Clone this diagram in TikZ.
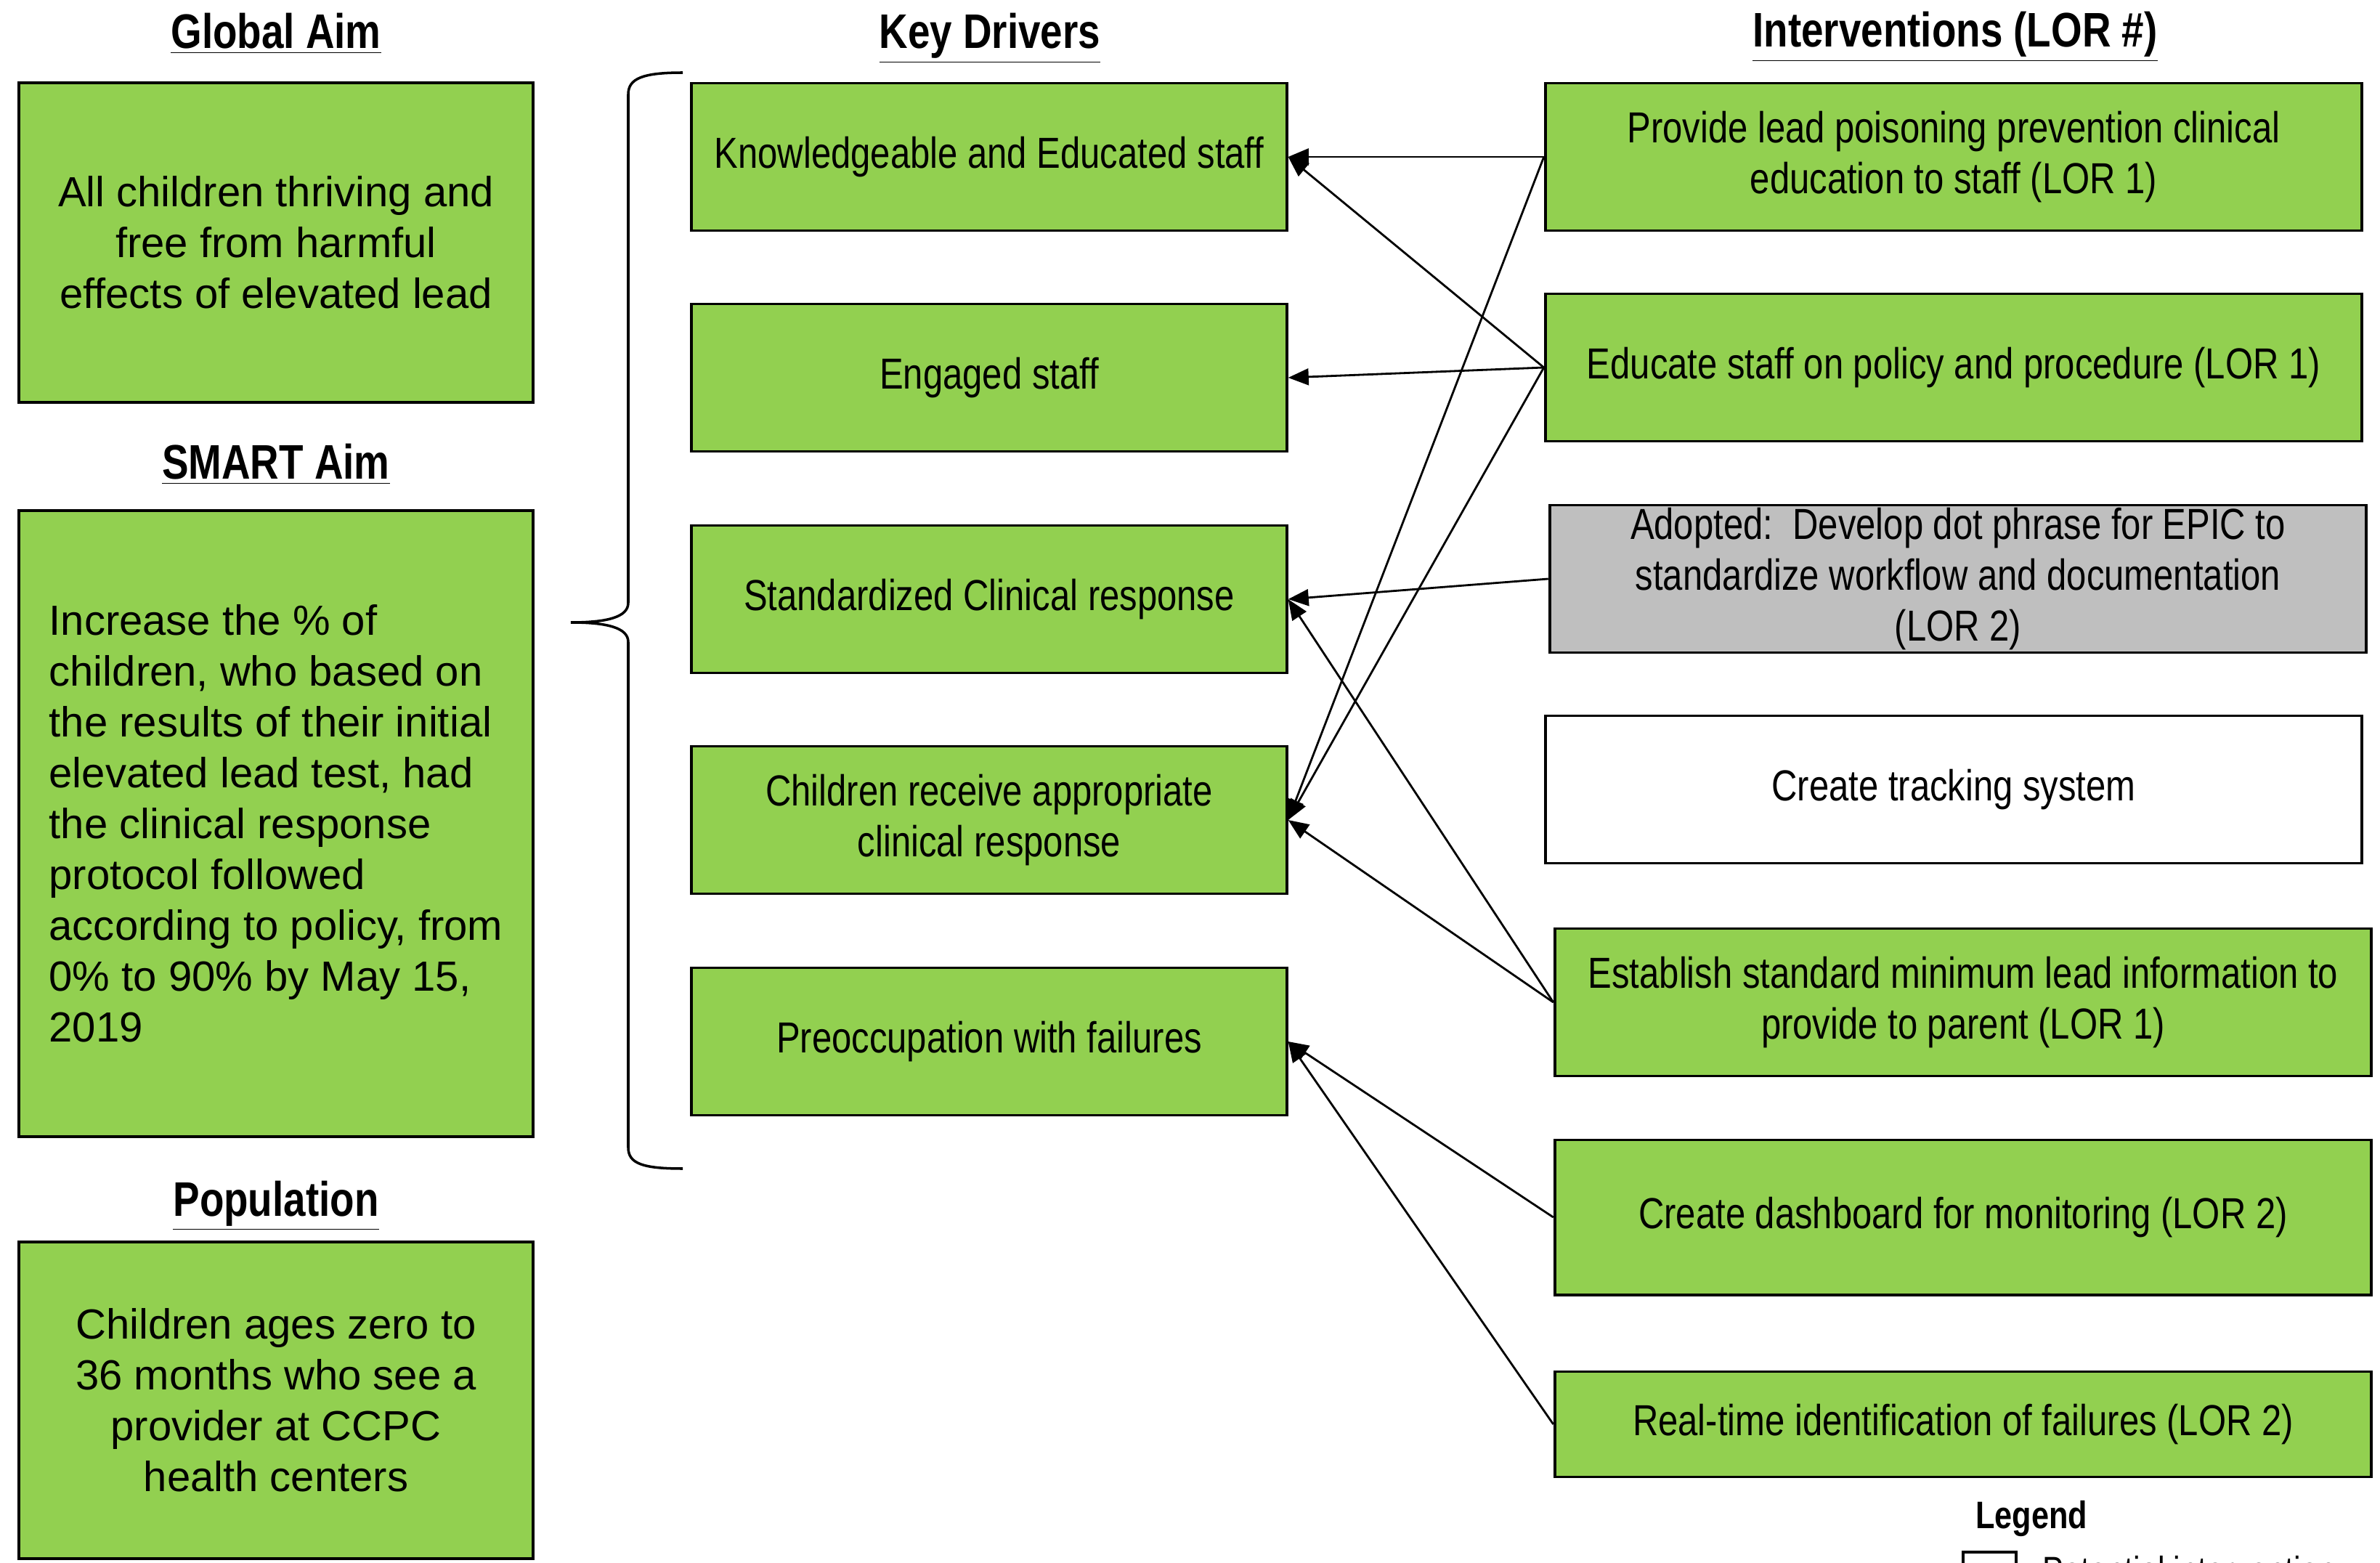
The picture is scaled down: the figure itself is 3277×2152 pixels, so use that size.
\documentclass[tikz,border=0pt]{standalone}
\usepackage{fontspec}
\setmainfont{Liberation Sans}
\newfontfamily\narrowfont[FakeStretch=0.82]{Liberation Sans}
\usetikzlibrary{arrows.meta,positioning}
\definecolor{boxgreen}{HTML}{92D050}
\definecolor{boxgray}{HTML}{BFBFBF}

\begin{document}
\begin{tikzpicture}[x=0.01cm,y=-0.01cm,
  box/.style={draw,line width=1.1pt,fill=boxgreen,inner sep=0pt,align=center},
  aim/.style={box,minimum width=7.07cm,font=\fontsize{16.5}{19.9}\selectfont},
  drv/.style={box,minimum width=8.19cm,minimum height=2.03cm,font=\narrowfont\fontsize{17}{20}\selectfont},
  act/.style={box,minimum width=11.24cm,minimum height=2.03cm,font=\narrowfont\fontsize{17}{20}\selectfont},
  head/.style={anchor=base,font=\narrowfont\bfseries\fontsize{19}{22}\selectfont},
  link/.style={line width=0.8pt,-{Triangle[length=8pt,width=6.5pt]}}]
\useasboundingbox (0,0) rectangle (3277,2152);
\node[head] (h1) at (380,67) {\underline{Global Aim}};
\node[head] (h2) at (1363,67) {\underline{Key Drivers}};
\node[head] (h3) at (2692,65) {\underline{Interventions (LOR \#)}};
\node[head] (h4) at (380,660) {\underline{SMART Aim}};
\node[head] (h5) at (380,1674) {\underline{Population}};
\node[aim,minimum height=4.39cm] (g) at (380,334) {All children thriving and\\free from harmful\\effects of elevated lead};
\node[aim,minimum height=8.61cm,align=left] (s) at (380,1134) {Increase the \% of\\children, who based on\\the results of their initial\\elevated lead test, had\\the clinical response\\protocol followed\\according to policy, from\\0\% to 90\% by May 15,\\2019};
\node[aim,minimum height=4.36cm] (p) at (380,1928) {Children ages zero to\\36 months who see a\\provider at CCPC\\health centers};
\draw[line width=1pt] (940,100) .. controls (885,100) and (865,108) .. (865,130) -- (865,830)
  .. controls (865,850) and (835,857) .. (786,857) .. controls (835,857) and (865,864) .. (865,884)
  -- (865,1580) .. controls (865,1602) and (885,1609) .. (940,1609);
\node[drv] (k1) at (1362,216) {Knowledgeable and Educated staff};
\node[drv] (k2) at (1362,520) {Engaged staff};
\node[drv] (k3) at (1362,825) {Standardized Clinical response};
\node[drv] (k4) at (1362,1129) {Children receive appropriate\\clinical response};
\node[drv] (k5) at (1362,1434) {Preoccupation with failures};
\node[act] (i1) at (2690,216) {Provide lead poisoning prevention clinical\\education to staff (LOR 1)};
\node[act] (i2) at (2690,506) {Educate staff on policy and procedure (LOR 1)};
\node[act,fill=boxgray] (i3) at (2696,797) {Adopted:\ \ Develop dot phrase for EPIC to\\standardize workflow and documentation\\(LOR 2)};
\node[act,fill=white] (i4) at (2690,1087) {Create tracking system};
\node[act] (i5) at (2703,1380) {Establish standard minimum lead information to\\provide to parent (LOR 1)};
\node[act,minimum height=2.13cm] (i6) at (2703,1676) {Create dashboard for monitoring (LOR 2)};
\node[act,minimum height=1.45cm] (i7) at (2703,1961) {Real-time identification of failures (LOR 2)};
\draw[link] (i1.west) -- (k1.east);
\draw[link] (i1.west) -- (k4.east);
\draw[link] (i2.west) -- (k1.east);
\draw[link] (i2.west) -- (k2.east);
\draw[link] (i2.west) -- (k4.east);
\draw[link] (i3.west) -- (k3.east);
\draw[link] (i5.west) -- (k3.east);
\draw[link] (i5.west) -- (k4.east);
\draw[link] (i6.west) -- (k5.east);
\draw[link] (i7.west) -- (k5.east);
\node[anchor=base,font=\narrowfont\bfseries\fontsize{15}{18}\selectfont] (lg) at (2797,2104) {Legend};
\coordinate (lb) at (2703,2137);
\draw[line width=1.1pt,fill=white] (lb) rectangle ++(73,60);
\node[anchor=base west,font=\narrowfont\fontsize{15}{18}\selectfont] (lt) at (2800,2180) {Potential intervention};
\end{tikzpicture}
\end{document}
